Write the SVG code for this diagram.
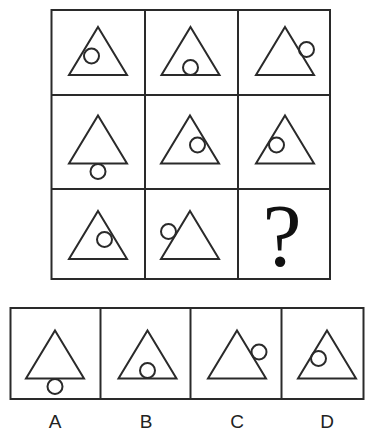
<svg xmlns="http://www.w3.org/2000/svg" width="366" height="432" viewBox="0 0 366 432">
<style>
.ln{fill:none;stroke:#2a2a2a;stroke-width:2}
.lab{font-family:"Liberation Sans",Arial,sans-serif;font-size:19px;fill:#222;text-anchor:middle}
</style>
<defs>
<path id="tri" d="M0,0 L29,48 L-29,48 Z" class="ln"/>
</defs>
<rect width="366" height="432" fill="#fff"/>
<g id="grid" class="ln">
<rect x="51.5" y="10" width="278.5" height="269"/>
<line x1="145" y1="10" x2="145" y2="279"/>
<line x1="238" y1="10" x2="238" y2="279"/>
<line x1="51.5" y1="95" x2="330" y2="95"/>
<line x1="51.5" y1="189" x2="330" y2="189"/>
</g>
<g id="c11"><use href="#tri" x="98" y="27"/><circle class="ln" cx="91.5" cy="56" r="7.5"/></g>
<g id="c12"><use href="#tri" x="190.5" y="27"/><circle class="ln" cx="190.5" cy="67.5" r="7.5"/></g>
<g id="c13"><use href="#tri" x="285" y="27"/><circle class="ln" cx="306.5" cy="49.5" r="7.5"/></g>
<g id="c21"><use href="#tri" x="98" y="115.5"/><circle class="ln" cx="98" cy="171.5" r="7.5"/></g>
<g id="c22"><use href="#tri" x="190" y="115.5"/><circle class="ln" cx="197.5" cy="145" r="7.5"/></g>
<g id="c23"><use href="#tri" x="285" y="115.5"/><circle class="ln" cx="276.5" cy="145" r="7.5"/></g>
<g id="c31"><use href="#tri" x="98" y="211"/><circle class="ln" cx="104.5" cy="239.5" r="7.5"/></g>
<g id="c32"><use href="#tri" x="190" y="211"/><circle class="ln" cx="168.5" cy="231.5" r="7.5"/></g>
<g id="c33"><text x="282" y="265" font-family="'Liberation Serif','Times New Roman',serif" font-size="88" text-anchor="middle" fill="#111">?</text></g>
<g id="options" class="ln">
<rect x="10.5" y="308" width="353" height="91"/>
<line x1="100.5" y1="308" x2="100.5" y2="399"/>
<line x1="190.5" y1="308" x2="190.5" y2="399"/>
<line x1="281.5" y1="308" x2="281.5" y2="399"/>
</g>
<g id="optA"><use href="#tri" x="55" y="330.5"/><circle class="ln" cx="55" cy="386.5" r="7.5"/><text class="lab" x="55" y="428">A</text></g>
<g id="optB"><use href="#tri" x="147.5" y="330.5"/><circle class="ln" cx="147.5" cy="370.5" r="7.5"/><text class="lab" x="146" y="428">B</text></g>
<g id="optC"><use href="#tri" x="237" y="330.5"/><circle class="ln" cx="259" cy="352" r="7.5"/><text class="lab" x="237" y="428">C</text></g>
<g id="optD"><use href="#tri" x="327" y="330.5"/><circle class="ln" cx="318.5" cy="358.5" r="7.5"/><text class="lab" x="327" y="428">D</text></g>
</svg>
